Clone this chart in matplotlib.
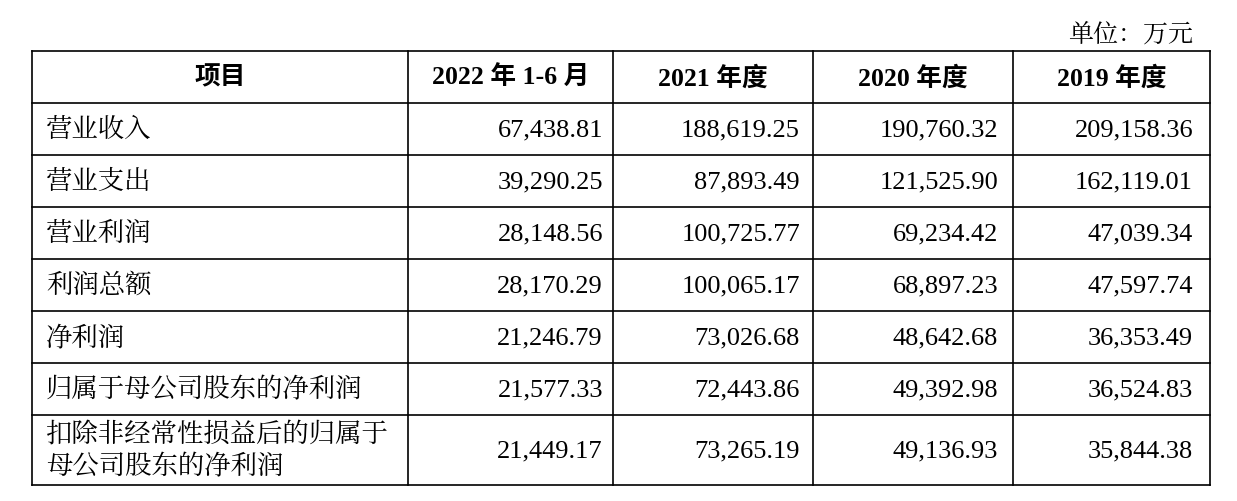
import matplotlib
matplotlib.use("Agg")
import matplotlib.pyplot as plt

headers = ["项目", "2022 年 1-6 月", "2021 年度", "2020 年度", "2019 年度"]
items = ["营业收入", "营业支出", "营业利润", "利润总额", "净利润",
         "归属于母公司股东的净利润", "扣除非经常性损益后的归属于\n母公司股东的净利润"]
v2022h1 = ["67,438.81", "39,290.25", "28,148.56", "28,170.29", "21,246.79", "21,577.33", "21,449.17"]
v2021 = ["188,619.25", "87,893.49", "100,725.77", "100,065.17", "73,026.68", "72,443.86", "73,265.19"]
v2020 = ["190,760.32", "121,525.90", "69,234.42", "68,897.23", "48,642.68", "49,392.98", "49,136.93"]
v2019 = ["209,158.36", "162,119.01", "47,039.34", "47,597.74", "36,353.49", "36,524.83", "35,844.38"]
unit = "单位：万元"

FAM = ["Liberation Serif", "Noto Sans CJK SC"]
CJK = ["Noto Serif CJK SC", "Noto Sans CJK SC"]

fig = plt.figure(figsize=(12.37, 5.02), dpi=100)
ax = fig.add_axes([0, 0, 1, 1])
ax.set_xlim(0, 1237)
ax.set_ylim(502, 0)
ax.axis("off")

xs = [32, 408, 613, 813, 1013, 1210]
ys = [52, 104, 156, 208, 260, 312, 364, 416, 486]
right = [603, 800, 998, 1193]

for x in xs:
    ax.plot([x, x], [ys[0], ys[-1]], color="black", lw=1.2)
for y in ys:
    ax.plot([xs[0], xs[-1]], [y, y], color="black", lw=1.2)

ax.text(1193, 35, unit, ha="right", va="center", fontsize=18, family=CJK)

for i, h in enumerate(headers):
    ax.text((xs[i] + xs[i + 1]) / 2, 78, h, ha="center", va="center",
            fontsize=18.5, weight="bold", family=FAM)

cols = [v2022h1, v2021, v2020, v2019]
for r, name in enumerate(items):
    yc = (ys[r + 1] + ys[r + 2]) / 2
    ax.text(46, yc, name, ha="left", va="center", fontsize=19, family=CJK, linespacing=1.15)
    for c, col in enumerate(cols):
        ax.text(right[c], yc, col[r], ha="right", va="center",
                fontsize=19, family=FAM)

fig.savefig("out.png", dpi=100, facecolor="white")
